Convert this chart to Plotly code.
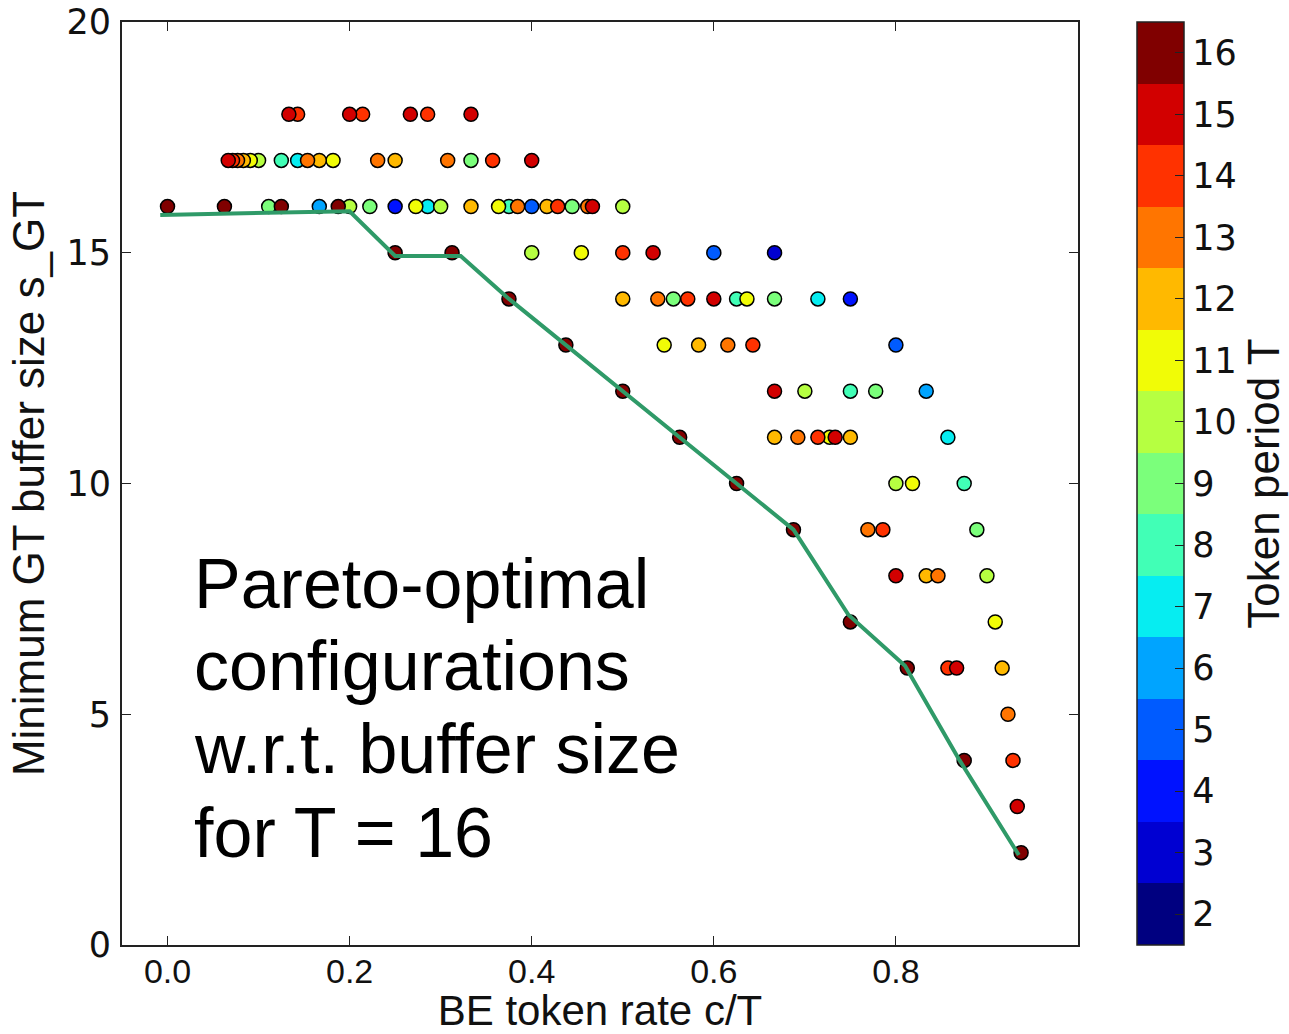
import numpy as np
import plotly.graph_objects as go

# Token period T of each configuration (drawn in this order, low T first)
period = [3,
          4, 4,
          5, 5, 5,
          6, 6,
          7, 7, 7, 7,
          8, 8, 8, 8, 8,
          9, 9, 9, 9, 9, 9, 9, 9,
          10, 10, 10, 10, 10, 10, 10, 10,
          11, 11, 11, 11, 11, 11, 11, 11, 11, 11,
          12, 12, 12, 12, 12, 12, 12, 12, 12, 12, 12,
          13, 13, 13, 13, 13, 13, 13, 13, 13, 13, 13, 13,
          14, 14, 14, 14, 14, 14, 14, 14, 14, 14, 14, 14, 14,
          15, 15, 15, 15, 15, 15, 15, 15, 15, 15, 15, 15, 15, 15,
          16, 16, 16, 16, 16, 16, 16, 16, 16, 16, 16, 16, 16, 16, 16, 16]

# BE token rate c/T
rate = [0.6667,
        0.25, 0.75,
        0.4, 0.6, 0.8,
        0.1667, 0.8333,
        0.1429, 0.2857, 0.7143, 0.8571,
        0.125, 0.375, 0.625, 0.75, 0.875,
        0.3333, 0.1111, 0.2222, 0.4444, 0.5556, 0.6667, 0.7778, 0.8889,
        0.1, 0.2, 0.3, 0.5, 0.4, 0.7, 0.8, 0.9,
        0.0909, 0.1818, 0.2727, 0.3636, 0.4545, 0.6364, 0.5455, 0.7273, 0.8182, 0.9091,
        0.0833, 0.1667, 0.25, 0.3333, 0.4167, 0.5, 0.5833, 0.6667, 0.75, 0.8333, 0.9167,
        0.0769, 0.1538, 0.2308, 0.3077, 0.3846, 0.4615, 0.5385, 0.6154, 0.6923, 0.7692, 0.8462, 0.9231,
        0.1429, 0.2143, 0.2857, 0.0714, 0.3571, 0.4286, 0.5, 0.5714, 0.6429, 0.7143, 0.7857, 0.8571, 0.9286,
        0.1333, 0.2, 0.2667, 0.3333, 0.0667, 0.4, 0.4667, 0.5333, 0.6, 0.6667, 0.7333, 0.8, 0.8667, 0.9333,
        0.0, 0.0625, 0.125, 0.1875, 0.25, 0.3125, 0.375, 0.4375, 0.5, 0.5625, 0.625, 0.6875, 0.75, 0.8125, 0.875, 0.9375]

# Minimum GT buffer size s_GT
buffer = [15,
          16, 14,
          16, 15, 13,
          16, 12,
          17, 16, 14, 11,
          17, 16, 14, 12, 10,
          17, 16, 16, 16, 14, 14, 12, 9,
          17, 16, 16, 16, 15, 12, 10, 8,
          17, 17, 16, 16, 15, 14, 13, 11, 10, 7,
          17, 17, 17, 16, 16, 14, 13, 11, 11, 8, 6,
          17, 17, 17, 17, 16, 16, 14, 13, 11, 9, 8, 5,
          18, 18, 18, 17, 17, 16, 15, 14, 13, 11, 9, 6, 4,
          18, 18, 18, 18, 17, 17, 16, 15, 14, 12, 11, 8, 6, 3,
          16, 16, 16, 16, 15, 15, 14, 13, 12, 11, 10, 9, 7, 6, 4, 2]

# Pareto front for T = 16
pareto_rate = [-0.008, 0.20, 0.25, 0.322, 0.375, 0.4375, 0.5, 0.5625, 0.625, 0.6875, 0.748, 0.81, 0.87, 0.935]
pareto_buffer = [15.82, 15.9, 14.93, 14.93, 14.0, 13.0, 12.0, 11.0, 10.0, 9.0, 7.15, 6.05, 4.0, 1.95]

x_ticks = [0.0, 0.2, 0.4, 0.6, 0.8]
y_ticks = [0, 5, 10, 15, 20]
period_levels = list(range(2, 17))

note_lines = ["Pareto-optimal", "configurations", "w.r.t. buffer size", "for T = 16"]


def jet(v):
    r = np.interp(v, [0, 0.35, 0.66, 0.89, 1], [0, 0, 1, 1, 0.5])
    g = np.interp(v, [0, 0.125, 0.375, 0.64, 0.91, 1], [0, 0, 1, 1, 0, 0])
    b = np.interp(v, [0, 0.11, 0.34, 0.65, 1], [0.5, 1, 1, 0, 0])
    return f"rgb({round(r * 255)},{round(g * 255)},{round(b * 255)})"


# discrete jet colour scale, one band per token period
n = len(period_levels)
colorscale = []
for i in range(n):
    c = jet(i / (n - 1))
    colorscale += [[i / n, c], [(i + 1) / n, c]]

tick_font = "DejaVu Sans"
label_font = "Liberation Sans, Arial, sans-serif"

fig = go.Figure()

fig.add_trace(go.Scatter(
    x=rate, y=buffer, mode="markers",
    marker=dict(
        size=14, color=period, colorscale=colorscale,
        cmin=period_levels[0] - 0.5, cmax=period_levels[-1] + 0.5,
        line=dict(color="black", width=1.5),
        colorbar=dict(
            x=1.0617, xanchor="left", xpad=0,
            y=0.5, yanchor="middle", len=1.0, lenmode="fraction", ypad=0,
            thickness=47, outlinecolor="#222", outlinewidth=1.5,
            tickvals=period_levels, ticktext=[str(v) for v in period_levels],
            ticks="inside", ticklen=9, tickwidth=1.2, tickcolor="#222",
            tickfont=dict(family=tick_font, size=35, color="#111"),
            title=dict(text="Token period T", side="right",
                       font=dict(family=label_font, size=44, color="#111")),
        ),
    ),
    showlegend=False,
))

fig.add_trace(go.Scatter(
    x=pareto_rate, y=pareto_buffer, mode="lines",
    line=dict(color="#2f9a68", width=4),
    showlegend=False,
))

plot_top, plot_bottom = 22, 945
plot_h = plot_bottom - plot_top
line_centres = [584, 666, 749, 833]
for text, cy in zip(note_lines, line_centres):
    fig.add_annotation(
        text=text, xref="paper", yref="paper",
        x=(192 - 122) / 956, y=(plot_bottom - cy) / plot_h,
        xanchor="left", yanchor="middle", showarrow=False,
        font=dict(family=label_font, size=70, color="black"),
    )

fig.update_layout(
    width=1289, height=1034,
    margin=dict(l=122, r=211, t=plot_top, b=1034 - plot_bottom, autoexpand=False),
    plot_bgcolor="white", paper_bgcolor="white",
    showlegend=False,
)

fig.update_xaxes(
    range=[-0.05, 1.0], tickvals=x_ticks, ticktext=[f"{v:.1f}" for v in x_ticks],
    ticks="inside", ticklen=9, tickwidth=1.2, tickcolor="#222",
    showline=True, linecolor="#222", linewidth=2, mirror="ticks",
    showgrid=False, zeroline=False, ticklabelstandoff=-5,
    tickfont=dict(family=label_font, size=34, color="#111"),
    title=dict(text="BE token rate c/T", standoff=0,
               font=dict(family=label_font, size=42, color="#111")),
)

fig.update_yaxes(
    range=[0, 20], tickvals=y_ticks, ticktext=[str(v) for v in y_ticks],
    ticks="inside", ticklen=9, tickwidth=1.2, tickcolor="#222",
    showline=True, linecolor="#222", linewidth=2, mirror="ticks",
    showgrid=False, zeroline=False, ticklabelstandoff=2,
    tickfont=dict(family=tick_font, size=35, color="#111"),
    title=dict(text="Minimum GT buffer size s_GT", standoff=8,
               font=dict(family=label_font, size=44, color="#111")),
)

fig.write_html("out.html")
